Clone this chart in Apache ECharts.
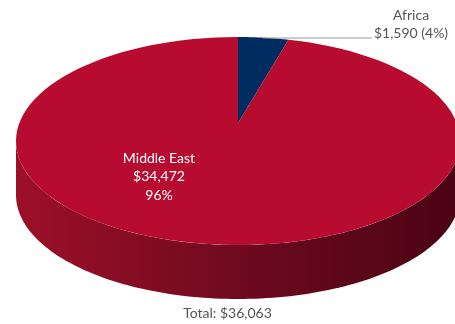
<!DOCTYPE html>
<html><head><meta charset="utf-8">
<script src="https://cdn.jsdelivr.net/npm/echarts@6/dist/echarts.min.js"></script>
<style>html,body{margin:0;padding:0;background:#fff}#c{width:455px;height:324px}</style>
</head><body><div id="c"></div>
<script>
const categories = ['Africa', 'Middle East'];
const values = [1590, 34472];
const valueLabels = ['$1,590', '$34,472'];
const pctLabels = ['4%', '96%'];
const totalLabel = 'Total: $36,063';

const sliceColors = ['#002c62', '#b70b2f'];
const FONT = 'Lato';

const G = { cx: 238, cy: 141, rx: 222, ry: 104, depth: 54, apexDy: -18, warp: 10 * Math.PI / 180 };
function warp(a) { return a - G.warp * Math.sin(a); }
function rim(phi, dy) { return [G.cx + G.rx * Math.sin(phi), G.cy - G.ry * Math.cos(phi) + (dy || 0)]; }

const sum = values.reduce((a, b) => a + b, 0);

const chart = echarts.init(document.getElementById('c'), null, { renderer: 'canvas' });
chart.setOption({
  animation: false,
  backgroundColor: '#fff',
  series: [{
    type: 'custom',
    coordinateSystem: 'none',
    data: values.map((v, i) => [i, v]),
    renderItem: function (params, api) {
      const i = params.dataIndex;
      const v = api.value(1);
      let before = 0;
      for (let k = 0; k < i; k++) before += values[k];
      const p0 = warp(before / sum * 2 * Math.PI), p1 = warp((before + v) / sum * 2 * Math.PI);
      const children = [];
      const s0 = Math.max(p0, Math.PI / 2), s1 = Math.min(p1, 3 * Math.PI / 2);
      const N = 120;
      if (s1 > s0) {
        const top = [], bot = [];
        for (let k = 0; k <= N; k++) {
          const a = s0 + (s1 - s0) * k / N;
          top.push(rim(a));
          bot.push(rim(a, G.depth));
        }
        children.push({
          type: 'polygon', z2: 1,
          shape: { points: top.concat(bot.reverse()) },
          style: {
            fill: new echarts.graphic.LinearGradient(1, 0, 0, 0, [
              { offset: 0, color: '#4a0313' },
              { offset: 0.5, color: '#6f0a1f' },
              { offset: 1, color: '#9d0f29' }
            ])
          }
        });
      }
      const pts = [[G.cx, G.cy + G.apexDy]];
      for (let k = 0; k <= N; k++) pts.push(rim(p0 + (p1 - p0) * k / N));
      children.push({ type: 'polygon', z2: 5, shape: { points: pts }, style: { fill: sliceColors[i] } });
      if (i === 0) {
        children.push({ type: 'line', z2: 6, shape: { x1: 263, y1: 38, x2: 372, y2: 38 }, style: { stroke: '#9a9a9a', lineWidth: 1 } });
        children.push({ type: 'text', z2: 7, style: { x: 411, y: 15, text: categories[i], fill: '#555', font: '14px ' + FONT, align: 'center', verticalAlign: 'middle' } });
        children.push({ type: 'text', z2: 7, style: { x: 411, y: 33, text: valueLabels[i] + ' (' + pctLabels[i] + ')', fill: '#555', font: '14px ' + FONT, align: 'center', verticalAlign: 'middle' } });
      } else {
        children.push({ type: 'text', z2: 7, style: { x: 159, y: 158, text: categories[i], fill: '#fff', font: '14px ' + FONT, align: 'center', verticalAlign: 'middle' } });
        children.push({ type: 'text', z2: 7, style: { x: 159, y: 176, text: valueLabels[i], fill: '#fff', font: '14px ' + FONT, align: 'center', verticalAlign: 'middle' } });
        children.push({ type: 'text', z2: 7, style: { x: 159, y: 195, text: pctLabels[i], fill: '#fff', font: '14px ' + FONT, align: 'center', verticalAlign: 'middle' } });
      }
      return { type: 'group', children: children };
    }
  }],
  graphic: [{
    type: 'text', left: 'center', top: 306,
    style: { x: 0, text: totalLabel, fill: '#555', font: '14px ' + FONT }
  }]
});
</script></body></html>
